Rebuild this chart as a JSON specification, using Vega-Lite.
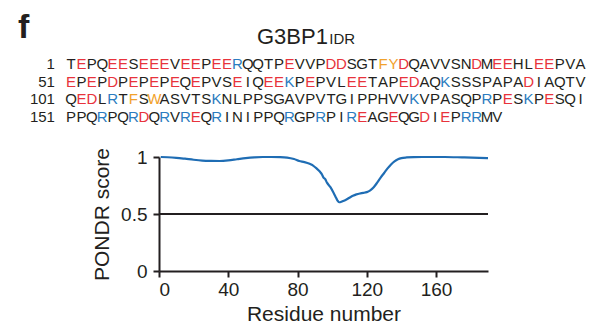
{
  "$schema": "https://vega.github.io/schema/vega-lite/v6.json",
  "padding": {"left": 17, "top": 0, "right": 0, "bottom": 0},
  "autosize": {"type": "pad"},
  "config": {
    "view": {"stroke": "transparent"},
    "font": "Liberation Sans",
    "axis": {"grid": false, "labelFont": "Liberation Sans", "titleFont": "Liberation Sans", "labelColor": "#231f20", "titleColor": "#231f20", "domainColor": "#231f20", "tickColor": "#231f20"}
  },
  "datasets": {
    "seq": [
      {"line":1,"pos":1,"aa":"T"},{"line":1,"pos":2,"aa":"E"},{"line":1,"pos":3,"aa":"P"},{"line":1,"pos":4,"aa":"Q"},{"line":1,"pos":5,"aa":"E"},{"line":1,"pos":6,"aa":"E"},{"line":1,"pos":7,"aa":"S"},{"line":1,"pos":8,"aa":"E"},{"line":1,"pos":9,"aa":"E"},{"line":1,"pos":10,"aa":"E"},
      {"line":1,"pos":11,"aa":"V"},{"line":1,"pos":12,"aa":"E"},{"line":1,"pos":13,"aa":"E"},{"line":1,"pos":14,"aa":"P"},{"line":1,"pos":15,"aa":"E"},{"line":1,"pos":16,"aa":"E"},{"line":1,"pos":17,"aa":"R"},{"line":1,"pos":18,"aa":"Q"},{"line":1,"pos":19,"aa":"Q"},{"line":1,"pos":20,"aa":"T"},
      {"line":1,"pos":21,"aa":"P"},{"line":1,"pos":22,"aa":"E"},{"line":1,"pos":23,"aa":"V"},{"line":1,"pos":24,"aa":"V"},{"line":1,"pos":25,"aa":"P"},{"line":1,"pos":26,"aa":"D"},{"line":1,"pos":27,"aa":"D"},{"line":1,"pos":28,"aa":"S"},{"line":1,"pos":29,"aa":"G"},{"line":1,"pos":30,"aa":"T"},
      {"line":1,"pos":31,"aa":"F"},{"line":1,"pos":32,"aa":"Y"},{"line":1,"pos":33,"aa":"D"},{"line":1,"pos":34,"aa":"Q"},{"line":1,"pos":35,"aa":"A"},{"line":1,"pos":36,"aa":"V"},{"line":1,"pos":37,"aa":"V"},{"line":1,"pos":38,"aa":"S"},{"line":1,"pos":39,"aa":"N"},{"line":1,"pos":40,"aa":"D"},
      {"line":1,"pos":41,"aa":"M"},{"line":1,"pos":42,"aa":"E"},{"line":1,"pos":43,"aa":"E"},{"line":1,"pos":44,"aa":"H"},{"line":1,"pos":45,"aa":"L"},{"line":1,"pos":46,"aa":"E"},{"line":1,"pos":47,"aa":"E"},{"line":1,"pos":48,"aa":"P"},{"line":1,"pos":49,"aa":"V"},{"line":1,"pos":50,"aa":"A"},
      {"line":51,"pos":1,"aa":"E"},{"line":51,"pos":2,"aa":"P"},{"line":51,"pos":3,"aa":"E"},{"line":51,"pos":4,"aa":"P"},{"line":51,"pos":5,"aa":"D"},{"line":51,"pos":6,"aa":"P"},{"line":51,"pos":7,"aa":"E"},{"line":51,"pos":8,"aa":"P"},{"line":51,"pos":9,"aa":"E"},{"line":51,"pos":10,"aa":"P"},
      {"line":51,"pos":11,"aa":"E"},{"line":51,"pos":12,"aa":"Q"},{"line":51,"pos":13,"aa":"E"},{"line":51,"pos":14,"aa":"P"},{"line":51,"pos":15,"aa":"V"},{"line":51,"pos":16,"aa":"S"},{"line":51,"pos":17,"aa":"E"},{"line":51,"pos":18,"aa":"I"},{"line":51,"pos":19,"aa":"Q"},{"line":51,"pos":20,"aa":"E"},
      {"line":51,"pos":21,"aa":"E"},{"line":51,"pos":22,"aa":"K"},{"line":51,"pos":23,"aa":"P"},{"line":51,"pos":24,"aa":"E"},{"line":51,"pos":25,"aa":"P"},{"line":51,"pos":26,"aa":"V"},{"line":51,"pos":27,"aa":"L"},{"line":51,"pos":28,"aa":"E"},{"line":51,"pos":29,"aa":"E"},{"line":51,"pos":30,"aa":"T"},
      {"line":51,"pos":31,"aa":"A"},{"line":51,"pos":32,"aa":"P"},{"line":51,"pos":33,"aa":"E"},{"line":51,"pos":34,"aa":"D"},{"line":51,"pos":35,"aa":"A"},{"line":51,"pos":36,"aa":"Q"},{"line":51,"pos":37,"aa":"K"},{"line":51,"pos":38,"aa":"S"},{"line":51,"pos":39,"aa":"S"},{"line":51,"pos":40,"aa":"S"},
      {"line":51,"pos":41,"aa":"P"},{"line":51,"pos":42,"aa":"A"},{"line":51,"pos":43,"aa":"P"},{"line":51,"pos":44,"aa":"A"},{"line":51,"pos":45,"aa":"D"},{"line":51,"pos":46,"aa":"I"},{"line":51,"pos":47,"aa":"A"},{"line":51,"pos":48,"aa":"Q"},{"line":51,"pos":49,"aa":"T"},{"line":51,"pos":50,"aa":"V"},
      {"line":101,"pos":1,"aa":"Q"},{"line":101,"pos":2,"aa":"E"},{"line":101,"pos":3,"aa":"D"},{"line":101,"pos":4,"aa":"L"},{"line":101,"pos":5,"aa":"R"},{"line":101,"pos":6,"aa":"T"},{"line":101,"pos":7,"aa":"F"},{"line":101,"pos":8,"aa":"S"},{"line":101,"pos":9,"aa":"W"},{"line":101,"pos":10,"aa":"A"},
      {"line":101,"pos":11,"aa":"S"},{"line":101,"pos":12,"aa":"V"},{"line":101,"pos":13,"aa":"T"},{"line":101,"pos":14,"aa":"S"},{"line":101,"pos":15,"aa":"K"},{"line":101,"pos":16,"aa":"N"},{"line":101,"pos":17,"aa":"L"},{"line":101,"pos":18,"aa":"P"},{"line":101,"pos":19,"aa":"P"},{"line":101,"pos":20,"aa":"S"},
      {"line":101,"pos":21,"aa":"G"},{"line":101,"pos":22,"aa":"A"},{"line":101,"pos":23,"aa":"V"},{"line":101,"pos":24,"aa":"P"},{"line":101,"pos":25,"aa":"V"},{"line":101,"pos":26,"aa":"T"},{"line":101,"pos":27,"aa":"G"},{"line":101,"pos":28,"aa":"I"},{"line":101,"pos":29,"aa":"P"},{"line":101,"pos":30,"aa":"P"},
      {"line":101,"pos":31,"aa":"H"},{"line":101,"pos":32,"aa":"V"},{"line":101,"pos":33,"aa":"V"},{"line":101,"pos":34,"aa":"K"},{"line":101,"pos":35,"aa":"V"},{"line":101,"pos":36,"aa":"P"},{"line":101,"pos":37,"aa":"A"},{"line":101,"pos":38,"aa":"S"},{"line":101,"pos":39,"aa":"Q"},{"line":101,"pos":40,"aa":"P"},
      {"line":101,"pos":41,"aa":"R"},{"line":101,"pos":42,"aa":"P"},{"line":101,"pos":43,"aa":"E"},{"line":101,"pos":44,"aa":"S"},{"line":101,"pos":45,"aa":"K"},{"line":101,"pos":46,"aa":"P"},{"line":101,"pos":47,"aa":"E"},{"line":101,"pos":48,"aa":"S"},{"line":101,"pos":49,"aa":"Q"},{"line":101,"pos":50,"aa":"I"},
      {"line":151,"pos":1,"aa":"P"},{"line":151,"pos":2,"aa":"P"},{"line":151,"pos":3,"aa":"Q"},{"line":151,"pos":4,"aa":"R"},{"line":151,"pos":5,"aa":"P"},{"line":151,"pos":6,"aa":"Q"},{"line":151,"pos":7,"aa":"R"},{"line":151,"pos":8,"aa":"D"},{"line":151,"pos":9,"aa":"Q"},{"line":151,"pos":10,"aa":"R"},
      {"line":151,"pos":11,"aa":"V"},{"line":151,"pos":12,"aa":"R"},{"line":151,"pos":13,"aa":"E"},{"line":151,"pos":14,"aa":"Q"},{"line":151,"pos":15,"aa":"R"},{"line":151,"pos":16,"aa":"I"},{"line":151,"pos":17,"aa":"N"},{"line":151,"pos":18,"aa":"I"},{"line":151,"pos":19,"aa":"P"},{"line":151,"pos":20,"aa":"P"},
      {"line":151,"pos":21,"aa":"Q"},{"line":151,"pos":22,"aa":"R"},{"line":151,"pos":23,"aa":"G"},{"line":151,"pos":24,"aa":"P"},{"line":151,"pos":25,"aa":"R"},{"line":151,"pos":26,"aa":"P"},{"line":151,"pos":27,"aa":"I"},{"line":151,"pos":28,"aa":"R"},{"line":151,"pos":29,"aa":"E"},{"line":151,"pos":30,"aa":"A"},
      {"line":151,"pos":31,"aa":"G"},{"line":151,"pos":32,"aa":"E"},{"line":151,"pos":33,"aa":"Q"},{"line":151,"pos":34,"aa":"G"},{"line":151,"pos":35,"aa":"D"},{"line":151,"pos":36,"aa":"I"},{"line":151,"pos":37,"aa":"E"},{"line":151,"pos":38,"aa":"P"},{"line":151,"pos":39,"aa":"R"},{"line":151,"pos":40,"aa":"R"},
      {"line":151,"pos":41,"aa":"M"},{"line":151,"pos":42,"aa":"V"}
    ],
    "lines": [{"line": 1}, {"line": 51}, {"line": 101}, {"line": 151}],
    "pondr": [
      {"residue":1,"score":1.0},{"residue":5,"score":0.998},{"residue":10,"score":0.993},{"residue":15,"score":0.985},{"residue":20,"score":0.976},{"residue":25,"score":0.969},{"residue":30,"score":0.966},{"residue":35,"score":0.965},{"residue":40,"score":0.97},{"residue":45,"score":0.98},{"residue":50,"score":0.99},{"residue":55,"score":0.997},{"residue":60,"score":1.0},{"residue":65,"score":1.0},{"residue":70,"score":0.999},{"residue":74,"score":0.995},{"residue":78,"score":0.982},{"residue":81,"score":0.965},{"residue":84,"score":0.955},{"residue":87,"score":0.94},{"residue":89,"score":0.925},{"residue":91,"score":0.9},{"residue":93,"score":0.87},{"residue":94,"score":0.85},{"residue":95,"score":0.82},{"residue":96,"score":0.805},{"residue":97,"score":0.775},{"residue":99,"score":0.735},{"residue":101,"score":0.68},{"residue":102,"score":0.65},{"residue":103,"score":0.62},{"residue":104,"score":0.603},{"residue":105,"score":0.605},{"residue":106,"score":0.612},{"residue":108,"score":0.625},{"residue":110,"score":0.643},{"residue":112,"score":0.66},{"residue":114,"score":0.672},{"residue":116,"score":0.68},{"residue":118,"score":0.685},{"residue":120,"score":0.692},{"residue":122,"score":0.708},{"residue":124,"score":0.735},{"residue":126,"score":0.775},{"residue":128,"score":0.82},{"residue":130,"score":0.86},{"residue":132,"score":0.9},{"residue":134,"score":0.935},{"residue":136,"score":0.962},{"residue":138,"score":0.98},{"residue":140,"score":0.99},{"residue":143,"score":0.996},{"residue":147,"score":0.999},{"residue":155,"score":1.0},{"residue":165,"score":1.0},{"residue":175,"score":0.997},{"residue":185,"score":0.993},{"residue":190,"score":0.99}
    ]
  },
  "vconcat": [
    {
      "width": 329,
      "height": 130,
      "layer": [
        {
          "data": {"name": "seq"},
          "mark": {"type": "text", "font": "Liberation Sans", "fontSize": 15, "baseline": "alphabetic", "align": "center"},
          "encoding": {
            "x": {"field": "pos", "type": "quantitative", "scale": {"domain": [9.46, 41.1], "nice": false, "zero": false}, "axis": null},
            "y": {"field": "line", "type": "quantitative", "scale": {"domain": [-192.75, 176.6], "reverse": true, "nice": false, "zero": false}, "axis": null},
            "text": {"field": "aa", "type": "nominal"},
            "color": {"field": "aa", "type": "nominal", "legend": null,
                      "scale": {"domain": ["D","E","K","R","F","Y","W","A","C","G","H","I","L","M","N","P","Q","S","T","V"],
                                "range": ["#e8333c","#e8333c","#2b7cc0","#2b7cc0","#f1a22c","#f1a22c","#f1a22c","#231f20","#231f20","#231f20","#231f20","#231f20","#231f20","#231f20","#231f20","#231f20","#231f20","#231f20","#231f20","#231f20"]}}
          }
        },
        {
          "data": {"name": "lines"},
          "mark": {"type": "text", "font": "Liberation Sans", "fontSize": 15, "baseline": "alphabetic", "align": "right", "color": "#231f20"},
          "encoding": {
            "x": {"datum": -0.55, "type": "quantitative", "axis": null},
            "y": {"field": "line", "type": "quantitative", "axis": null},
            "text": {"field": "line", "type": "quantitative", "format": "d"}
          }
        },
        {
          "data": {"values": [{"label": "f"}]},
          "mark": {"type": "text", "font": "Liberation Sans", "fontSize": 34, "fontWeight": "bold", "baseline": "alphabetic", "align": "left", "color": "#231f20"},
          "encoding": {
            "x": {"datum": -4.1, "type": "quantitative", "axis": null},
            "y": {"datum": -87.6, "type": "quantitative", "axis": null},
            "text": {"field": "label", "type": "nominal"}
          }
        },
        {
          "data": {"values": [{"label": "G3BP1"}]},
          "mark": {"type": "text", "font": "Liberation Sans", "fontSize": 22, "baseline": "alphabetic", "align": "right", "color": "#231f20"},
          "encoding": {
            "x": {"datum": 25.7, "type": "quantitative", "axis": null},
            "y": {"datum": -70.6, "type": "quantitative", "axis": null},
            "text": {"field": "label", "type": "nominal"}
          }
        },
        {
          "data": {"values": [{"label": "IDR"}]},
          "mark": {"type": "text", "font": "Liberation Sans", "fontSize": 15, "baseline": "alphabetic", "align": "left", "dx": 1.5, "color": "#231f20"},
          "encoding": {
            "x": {"datum": 25.7, "type": "quantitative", "axis": null},
            "y": {"datum": -70.6, "type": "quantitative", "axis": null},
            "text": {"field": "label", "type": "nominal"}
          }
        }
      ]
    },
    {
      "width": 329,
      "height": 114,
      "data": {"name": "pondr"},
      "layer": [
        {
          "mark": {"type": "rule", "color": "#231f20", "strokeWidth": 2},
          "encoding": {"y": {"datum": 0.5, "type": "quantitative"}}
        },
        {
          "mark": {"type": "line", "color": "#1f6db4", "strokeWidth": 2.2, "interpolate": "monotone"},
          "encoding": {
            "x": {"field": "residue", "type": "quantitative", "scale": {"domain": [0, 190], "nice": false},
                  "axis": {"values": [0, 40, 80, 120, 160], "format": "d", "title": "Residue number", "labelFontSize": 19, "titleFontSize": 21, "titleFontWeight": "normal", "domainWidth": 2, "tickWidth": 2, "tickSize": 6, "labelPadding": 3, "titlePadding": 4}},
            "y": {"field": "score", "type": "quantitative", "scale": {"domain": [0, 1], "nice": false},
                  "axis": {"values": [0, 0.5, 1], "format": ".1~f", "title": "PONDR score", "labelFontSize": 19, "titleFontSize": 21, "titleFontWeight": "normal", "domainWidth": 2, "tickWidth": 2, "tickSize": 6, "labelPadding": 6, "titlePadding": 8}}
          }
        }
      ]
    }
  ],
  "spacing": 26,
  "bounds": "flush"
}
